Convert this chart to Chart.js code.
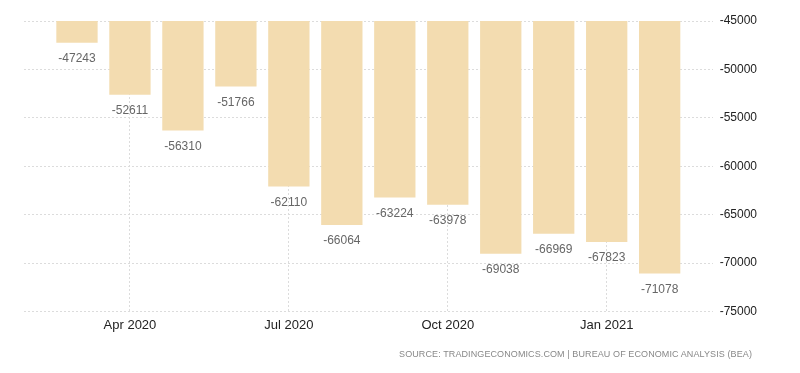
<!DOCTYPE html>
<html>
<head>
<meta charset="utf-8">
<script src="https://cdn.jsdelivr.net/npm/chart.js@4"></script>
<style>
  html, body { margin: 0; padding: 0; background: #fff; }
  #wrap { position: relative; width: 800px; height: 373px; }
  #source {
    position: absolute; right: 48px; top: 349px;
    font: 9px Arial, sans-serif; letter-spacing: 0.1px; color: #888;
  }
</style>
</head>
<body>
<div id="wrap">
  <canvas id="chart" width="800" height="373"></canvas>
  <div id="source">SOURCE: TRADINGECONOMICS.COM | BUREAU OF ECONOMIC ANALYSIS (BEA)</div>
</div>
<script>
// Datos
const months = ['Mar 2020', 'Apr 2020', 'May 2020', 'Jun 2020', 'Jul 2020', 'Aug 2020',
                'Sep 2020', 'Oct 2020', 'Nov 2020', 'Dec 2020', 'Jan 2021', 'Feb 2021'];
const balance = [-47243, -52611, -56310, -51766, -62110, -66064,
                 -63224, -63978, -69038, -66969, -67823, -71078];
const tickLabels = ['Apr 2020', 'Jul 2020', 'Oct 2020', 'Jan 2021'];
const yTicks = [-45000, -50000, -55000, -60000, -65000, -70000, -75000];

// empty slot at each end so the bars sit inside the grid like the original
const labels = ['Feb 2020', ...months, 'Mar 2021'];
const values = [null, ...balance, null];

const BAR_COLOR = '#f3dcb0';
const GRID_COLOR = '#dcdcdc';

// etiquetas de valor debajo de cada barra
const valueLabels = {
    id: 'valueLabels',
    afterDatasetsDraw(chart) {
        const ctx = chart.ctx;
        const meta = chart.getDatasetMeta(0);
        ctx.save();
        ctx.font = '12px Arial, sans-serif';
        ctx.fillStyle = '#666';
        ctx.textAlign = 'center';
        ctx.textBaseline = 'middle';
        meta.data.forEach((bar, i) => {
            const v = values[i];
            if (v === null) return;
            ctx.fillText(String(v), bar.x, bar.y + 16);
        });
        ctx.restore();
    }
};

new Chart(document.getElementById('chart'), {
    type: 'bar',
    data: {
        labels: labels,
        datasets: [{
            data: values,
            backgroundColor: BAR_COLOR,
            borderWidth: 0,
            barPercentage: 0.78,
            categoryPercentage: 1.0
        }]
    },
    options: {
        responsive: false,
        animation: false,
        layout: { padding: { left: 24, right: 36, top: 21, bottom: 34 } },
        plugins: { legend: { display: false }, tooltip: { enabled: false } },
        scales: {
            x: {
                offset: false,
                grid: {
                    offset: false,
                    drawTicks: false,
                    color: (c) => tickLabels.includes(labels[c.index]) ? GRID_COLOR : 'transparent'
                },
                border: { display: false, dash: [2, 2] },
                ticks: {
                    autoSkip: false,
                    maxRotation: 0,
                    padding: 6,
                    color: '#222',
                    font: { family: 'Arial, sans-serif', size: 13 },
                    callback: function (val) {
                        const l = this.getLabelForValue(val);
                        return tickLabels.includes(l) ? l : '';
                    }
                }
            },
            y: {
                position: 'right',
                min: yTicks[yTicks.length - 1],
                max: yTicks[0],
                grid: { drawTicks: false, color: GRID_COLOR },
                border: { display: false, dash: [2, 2] },
                afterBuildTicks: (axis) => { axis.ticks = yTicks.map(v => ({ value: v })); },
                ticks: {
                    padding: 7,
                    color: '#222',
                    font: { family: 'Arial, sans-serif', size: 12 },
                    callback: (v) => String(v)
                }
            }
        }
    },
    plugins: [valueLabels]
});
</script>
</body>
</html>
